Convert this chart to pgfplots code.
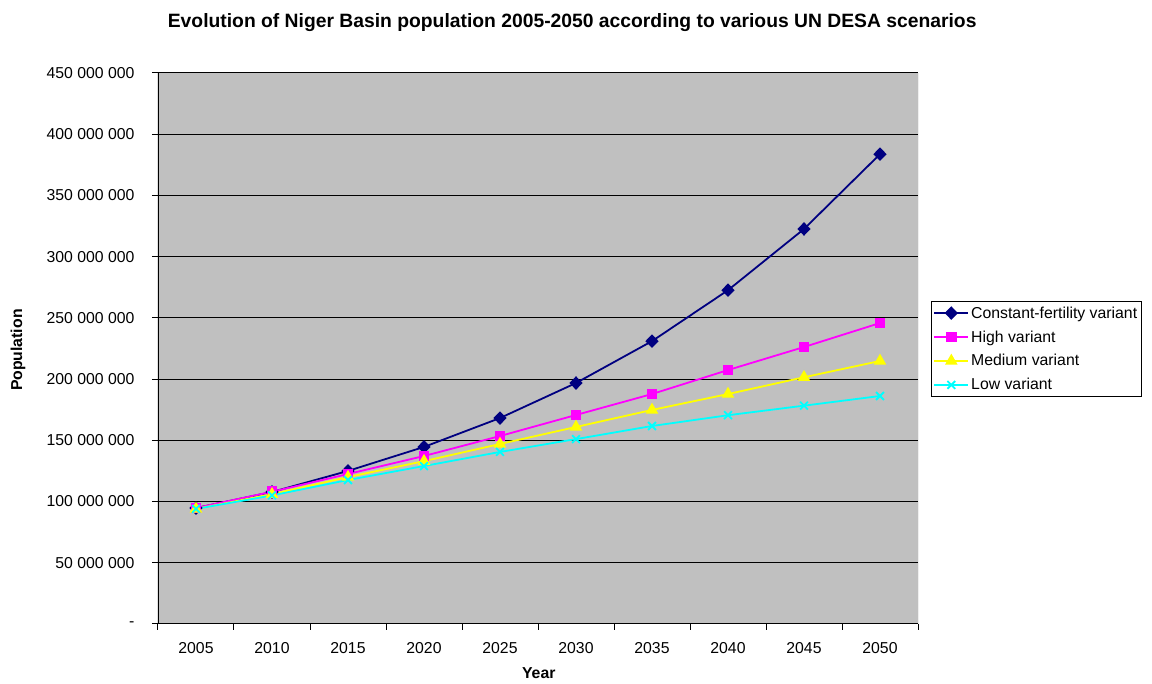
\documentclass[border=0pt]{standalone}
\usepackage{fontspec}
\setmainfont{Liberation Sans}
\usepackage{pgfplots}
\pgfplotsset{compat=1.18}
\definecolor{plotgray}{HTML}{C0C0C0}
\definecolor{navyline}{HTML}{000080}
\definecolor{magline}{HTML}{FF00FF}
\definecolor{yelline}{HTML}{FFFF00}
\definecolor{cyanline}{HTML}{00FFFF}

\begin{document}
\begin{tikzpicture}[x=1pt,y=1pt]
\useasboundingbox (0,0) rectangle (1152,684);
\begin{axis}[
  at={(158pt,60pt)}, anchor=south west,
  width=760pt, height=551pt, scale only axis,
  xmin=-0.5, xmax=9.5, ymin=0, ymax=450,
  xtick={0,...,9},
  xticklabels={2005,2010,2015,2020,2025,2030,2035,2040,2045,2050},
  major x tick style={draw=none},
  minor xtick={-0.5,0.5,...,9.5},
  ytick={0,50,...,450},
  yticklabels={-,50 000 000,100 000 000,150 000 000,200 000 000,250 000 000,300 000 000,350 000 000,400 000 000,450 000 000},
  tick align=outside, tick pos=left,
  major tick length=6pt, minor tick length=6pt,
  tick style={black, line width=1pt},
  ymajorgrids, grid style={black, line width=1pt},
  axis line style={draw=none},
  axis background/.style={fill=plotgray},
  tick label style={font=\fontsize{15.8}{19}\selectfont},
  yticklabel style={anchor=east, xshift=-14pt},
  xticklabel style={yshift=-9pt},
  title={Evolution of Niger Basin population 2005-2050 according to various UN DESA scenarios},
  title style={at={(rel axis cs:0.545,1.081)}, anchor=center, font=\bfseries\fontsize{19.3}{23}\selectfont},
  xlabel={Year},
  xlabel style={at={(rel axis cs:0.501,-0.0889)}, anchor=center, font=\bfseries\fontsize{15.8}{19}\selectfont},
  ylabel={Population},
  ylabel style={at={(rel axis cs:-0.184,0.497)}, anchor=center, rotate=0, font=\bfseries\fontsize{15.8}{19}\selectfont},
  legend style={at={(rel axis cs:1.017,0.586)}, anchor=north west, draw=black, line width=1pt, fill=white,
    font=\fontsize{15.8}{19}\selectfont, inner xsep=2pt, inner ysep=3pt, row sep=7pt,
    nodes={inner sep=2pt}},
  legend cell align=left,
  legend image code/.code={\draw[mark repeat=2,mark phase=2,#1] plot coordinates {(0pt,0pt) (17pt,0pt) (34pt,0pt)};},
  every axis plot/.append style={line width=1.8pt, mark options={solid}},
]
\addplot[color=navyline, mark=diamond*, mark size=5.5pt, mark options={fill=navyline, xscale=1.3}]
  coordinates {(0,94.7)(1,107.8)(2,125.0)(3,144.6)(4,168.2)(5,196.8)(6,231.0)(7,272.6)(8,322.6)(9,383.7)};
\addlegendentry{Constant-fertility variant}
\addplot[color=magline, mark=square*, mark size=4.5pt, mark options={fill=magline}]
  coordinates {(0,94.7)(1,108.0)(2,122.5)(3,137.2)(4,153.5)(5,170.7)(6,187.8)(7,207.4)(8,226.2)(9,245.8)};
\addlegendentry{High variant}
\addplot[color=yelline, mark=triangle*, mark size=5.5pt, mark options={fill=yelline}]
  coordinates {(0,94.0)(1,106.0)(2,120.0)(3,133.0)(4,147.0)(5,160.9)(6,174.8)(7,187.8)(8,201.5)(9,214.8)};
\addlegendentry{Medium variant}
\addplot[color=cyanline, mark=x, mark size=5.5pt]
  coordinates {(0,94.0)(1,105.0)(2,117.6)(3,129.0)(4,140.5)(5,151.0)(6,161.7)(7,170.5)(8,178.3)(9,186.2)};
\addlegendentry{Low variant}
\draw[black, line width=1.5pt] (rel axis cs:0,1) -- (rel axis cs:0,0) -- (rel axis cs:1,0);
\draw[gray, line width=1pt] (rel axis cs:1,0) -- (rel axis cs:1,1);
\end{axis}
\end{tikzpicture}
\end{document}
